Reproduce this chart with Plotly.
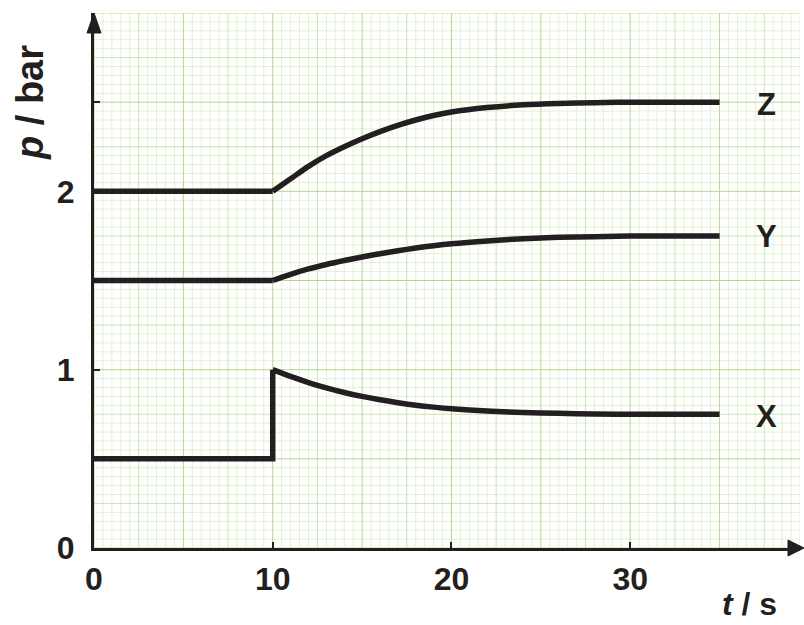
import plotly.graph_objects as go

# ---- data ----
t_pre = [0, 10]
t_post = [10, 11, 12, 13, 14, 15, 16, 17, 18, 19, 20, 22, 24, 26, 28, 30, 35]

z_pre = [2.0, 2.0]
z_post = [2.0, 2.07, 2.14, 2.20, 2.25, 2.295, 2.335, 2.37, 2.40, 2.425, 2.445, 2.47, 2.485, 2.493, 2.497, 2.5, 2.5]

y_pre = [1.5, 1.5]
y_post = [1.5, 1.535, 1.565, 1.59, 1.612, 1.632, 1.65, 1.667, 1.682, 1.695, 1.706, 1.722, 1.734, 1.742, 1.746, 1.749, 1.75]

x_pre_t = [0, 10, 10]
x_pre = [0.5, 0.5, 1.0]
x_post = [1.0, 0.962, 0.928, 0.898, 0.872, 0.85, 0.831, 0.815, 0.801, 0.79, 0.781, 0.768, 0.76, 0.755, 0.752, 0.75, 0.75]

x_ticks = [0, 10, 20, 30]
x_ticktext = ["0", "10", "20", "30"]
y_ticks = [0, 0.5, 1, 1.5, 2, 2.5]
y_ticktext = ["0", "", "1", "", "2", ""]

series_labels = ["Z", "Y", "X"]
label_y = [2.485, 1.744, 0.735]

# ---- styling ----
INK = "#231f20"
FONT = "Liberation Sans, Arial, sans-serif"
X_MAX, Y_MAX = 39.5, 3.0
C_FINE = "#e2f1d2"
C_MED = "#cce6b0"
C_MAJ = "#b3d98c"
LW = 5.5

fig = go.Figure()

for tt, vv in [(t_pre, z_pre), (t_pre, y_pre), (x_pre_t, x_pre)]:
    fig.add_trace(go.Scatter(x=tt, y=vv, mode="lines", line=dict(color=INK, width=LW),
                             hoverinfo="skip", showlegend=False))
for vv in [z_post, y_post, x_post]:
    fig.add_trace(go.Scatter(x=t_post, y=vv, mode="lines",
                             line=dict(color=INK, width=LW, shape="spline", smoothing=0.8),
                             hoverinfo="skip", showlegend=False))

# ---- graph paper grid ----
shapes = []
levels = {0: [], 1: [], 2: []}
for i in range(int(X_MAX / 0.5) + 1):
    v = i * 0.5
    lvl = 2 if i % 10 == 0 else (1 if i % 5 == 0 else 0)
    levels[lvl].append(dict(type="line", xref="x", yref="y", x0=v, x1=v, y0=0, y1=Y_MAX))
for j in range(int(round(Y_MAX / 0.05)) + 1):
    v = j * 0.05
    lvl = 2 if j % 10 == 0 else (1 if j % 5 == 0 else 0)
    levels[lvl].append(dict(type="line", xref="x", yref="y", x0=0, x1=X_MAX, y0=v, y1=v))
for lvl, col in [(0, C_FINE), (1, C_MED), (2, C_MAJ)]:
    for s in levels[lvl]:
        s.update(line=dict(color=col, width=1), layer="below")
        shapes.append(s)

# arrowheads (paper coords)
shapes.append(dict(type="path", xref="paper", yref="paper",
                   path="M 0.983 0.015 L 1.0057 0 L 0.983 -0.015 Z",
                   fillcolor=INK, line=dict(color=INK, width=1)))
shapes.append(dict(type="path", xref="paper", yref="paper",
                   path="M -0.0099 0.9626 L 0 1.0 L 0.0099 0.9626 Z",
                   fillcolor=INK, line=dict(color=INK, width=1)))

annotations = []
for lab, yy in zip(series_labels, label_y):
    annotations.append(dict(x=37.6, y=yy, xref="x", yref="y", text=lab, showarrow=False,
                            font=dict(family=FONT, size=31, color=INK, weight="bold"),
                            xanchor="center", yanchor="middle"))
annotations.append(dict(x=0.929, y=-0.1047, xref="paper", yref="paper",
                        text="<i>t</i> / s", showarrow=False,
                        font=dict(family=FONT, size=32, color=INK, weight="bold"),
                        xanchor="center", yanchor="middle"))
annotations.append(dict(x=-0.0907, y=0.8336, xref="paper", yref="paper",
                        text="<i>p</i> / bar", showarrow=False, textangle=-90,
                        font=dict(family=FONT, size=38, color=INK, weight="bold"),
                        xanchor="center", yanchor="middle"))

axis_common = dict(showgrid=False, zeroline=False, showline=True, linecolor=INK,
                   linewidth=3, ticks="inside", ticklen=6, tickwidth=2, tickcolor=INK,
                   tickfont=dict(family=FONT, size=32, color=INK, weight="bold"),
                   fixedrange=True)

fig.update_layout(
    width=804, height=625,
    margin=dict(l=94, r=4, t=13, b=77),
    paper_bgcolor="white", plot_bgcolor="white",
    xaxis=dict(range=[0, X_MAX], tickvals=x_ticks, ticktext=x_ticktext,
               ticklabelstandoff=1, **axis_common),
    yaxis=dict(range=[0, Y_MAX], tickvals=y_ticks, ticktext=y_ticktext,
               ticklabelstandoff=10, **axis_common),
    shapes=shapes, annotations=annotations, showlegend=False,
)

fig.write_html("out.html", config={"displayModeBar": False},
               post_script="document.body.style.margin='0px';document.body.style.overflow='hidden';")
